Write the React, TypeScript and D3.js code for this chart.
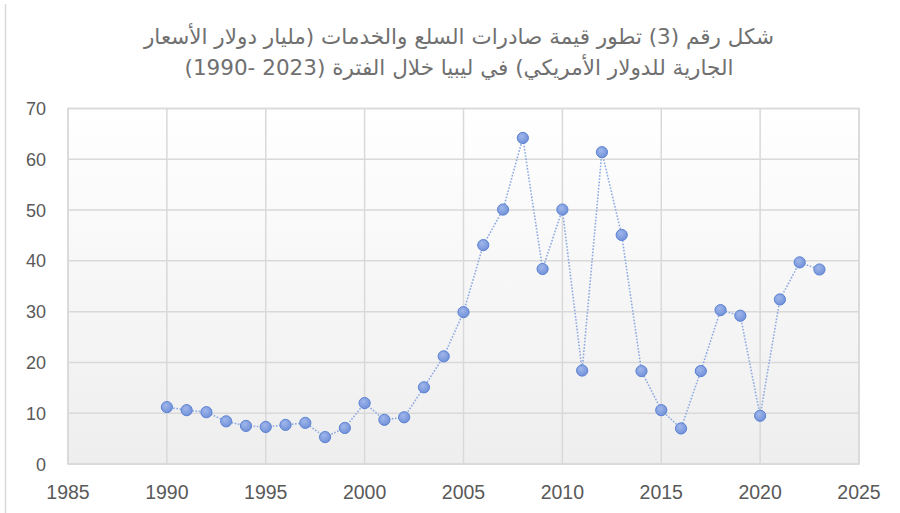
import React, { useLayoutEffect, useRef, useState } from "react";
import * as d3 from "d3";

const years = [1990,1991,1992,1993,1994,1995,1996,1997,1998,1999,2000,2001,2002,2003,2004,2005,2006,2007,2008,2009,2010,2011,2012,2013,2014,2015,2016,2017,2018,2019,2020,2021,2022,2023];
const exportsValues = [11.2,10.6,10.2,8.4,7.5,7.3,7.7,8.1,5.3,7.1,12.0,8.7,9.2,15.1,21.2,29.9,43.1,50.1,64.2,38.4,50.1,18.4,61.4,45.1,18.3,10.6,7.0,18.3,30.3,29.2,9.5,32.4,39.7,38.3];
const xTicks = [1985,1990,1995,2000,2005,2010,2015,2020,2025];
const yTicks = [0,10,20,30,40,50,60,70];
const titleLine1 = "شكل رقم (3) تطور قيمة صادرات السلع والخدمات (مليار دولار الأسعار";
const titleLine2Arabic = "الجارية للدولار الأمريكي) في ليبيا خلال الفترة";
const titleLine2Period = "(1990- 2023)";

export default function App() {
  const W = 900, H = 513;
  const left = 68, right = 859, top = 108.5, bottom = 464;
  const x = d3.scaleLinear().domain([1985, 2025]).range([left, right]);
  const y = d3.scaleLinear().domain([0, 70]).range([bottom, top]);
  const data = years.map((yr, i) => ({ yr, v: exportsValues[i] }));
  const line = d3.line<{ yr: number; v: number }>().x(d => x(d.yr)).y(d => y(d.v));
  const grey = "#595959";

  const arRef = useRef<SVGTextElement>(null);
  const numRef = useRef<SVGTextElement>(null);
  const [widths, setWidths] = useState({ a: 430, n: 130 });
  useLayoutEffect(() => {
    if (arRef.current && numRef.current) {
      const a = arRef.current.getComputedTextLength();
      const n = numRef.current.getComputedTextLength();
      if (Math.abs(a - widths.a) > 0.5 || Math.abs(n - widths.n) > 0.5) setWidths({ a, n });
    }
  });
  const gap = 7;
  const cx = 459;
  const total = widths.a + gap + widths.n;
  const numCenter = cx - total / 2 + widths.n / 2;
  const arCenter = cx + total / 2 - widths.a / 2;

  return (
    <svg width={W} height={H} style={{ position: "absolute", left: 0, top: 0, background: "#fff" }}>
      <defs>
        <linearGradient id="bg" x1="0" y1="0" x2="0" y2="1">
          <stop offset="0" stopColor="#ffffff" />
          <stop offset="1" stopColor="#eeeeee" />
        </linearGradient>
        <radialGradient id="mk" cx="0.4" cy="0.35" r="0.7">
          <stop offset="0" stopColor="#9fb6ea" />
          <stop offset="1" stopColor="#6f8fd8" />
        </radialGradient>
      </defs>
      <line x1={5.5} x2={5.5} y1={4} y2={H} stroke="#d9d9d9" strokeWidth={1.5} />
      <g fontFamily="'DejaVu Sans', sans-serif" fontSize={21.5} fill="#707070" textAnchor="middle">
        <text x={cx} y={44} direction="rtl" style={{ direction: "rtl" }}>{titleLine1}</text>
        <text ref={arRef} x={arCenter} y={75} direction="rtl" style={{ direction: "rtl" }}>{titleLine2Arabic}</text>
        <text ref={numRef} x={numCenter} y={75} direction="ltr" style={{ direction: "ltr" }}>{titleLine2Period}</text>
      </g>
      <rect x={left} y={top} width={right - left} height={bottom - top} fill="url(#bg)" stroke="#d9d9d9" strokeWidth={1.5} />
      {yTicks.map(t => (
        <line key={"gy" + t} x1={left} x2={right} y1={y(t)} y2={y(t)} stroke="#d9d9d9" strokeWidth={1.5} />
      ))}
      {xTicks.map(t => (
        <line key={"gx" + t} x1={x(t)} x2={x(t)} y1={top} y2={bottom} stroke="#d9d9d9" strokeWidth={1.5} />
      ))}
      <g fontFamily="'Liberation Sans', Arial, sans-serif" fontSize={18} fill={grey}>
        {yTicks.map(t => (
          <text key={"ly" + t} x={46} y={y(t) + 6.5} textAnchor="end">{t}</text>
        ))}
      </g>
      <g fontFamily="'Liberation Sans', Arial, sans-serif" fontSize={19.5} fill={grey}>
        {xTicks.map(t => (
          <text key={"lx" + t} x={x(t)} y={499} textAnchor="middle">{t}</text>
        ))}
      </g>
      <path d={line(data) || ""} fill="none" stroke="#8eaae2" strokeWidth={1.6} strokeDasharray="1.6,1.6" />
      {data.map(d => (
        <circle key={d.yr} cx={x(d.yr)} cy={y(d.v)} r={5.6} fill="url(#mk)" stroke="#5b82d3" strokeWidth={1} />
      ))}
    </svg>
  );
}
